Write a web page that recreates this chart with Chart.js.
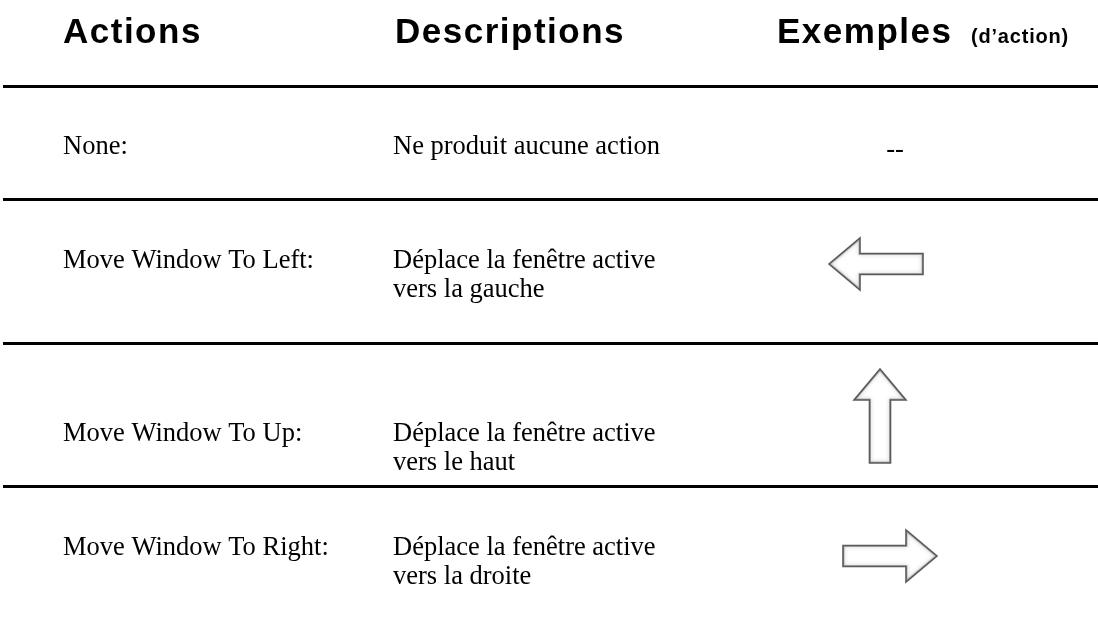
<!DOCTYPE html>
<html>
<head>
<meta charset="utf-8">
<script src="https://cdn.jsdelivr.net/npm/chart.js@4/dist/chart.umd.min.js"></script>
<style>
  html, body { margin: 0; padding: 0; background: #fff; }
  #wrap { width: 1098px; height: 622px; }
</style>
</head>
<body>
<div id="wrap"><canvas id="c" width="1098" height="622"></canvas></div>
<script>
// ---- data ----
const headers = ["Actions", "Descriptions", "Exemples"];
const headerNote = "(d\u2019action)";
const actions = ["None:", "Move Window To Left:", "Move Window To Up:", "Move Window To Right:"];
const descriptions = [
  ["Ne produit aucune action"],
  ["Déplace la fenêtre active", "vers la gauche"],
  ["Déplace la fenêtre active", "vers le haut"],
  ["Déplace la fenêtre active", "vers la droite"]
];
const examples = ["--", "left", "up", "right"];

// ---- layout (positions in canvas units) ----
const W = 1098, H = 622;
const separators = [86, 199, 343, 486];
const headerX = [63, 395, 777];
const headerNoteX = 971;
const headerBaseline = 43;
const colX = [63, 393];
const rowBaseline = [154, 268, 441, 555];
const lineGap = 29;
const exampleX = [895, 876, 880, 890];
const exampleY = [150, 264, 416, 556];

// arrow geometry
const ARROW_LEN = 94, HEAD_LEN = 31, HEAD_HALF = 26, SHAFT_HALF = 10.5;

function makeArrow(dir) {
  const pad = 4;
  const c = document.createElement('canvas');
  const horiz = dir === 'left' || dir === 'right';
  const w = (horiz ? ARROW_LEN : HEAD_HALF * 2) + pad * 2;
  const h = (horiz ? HEAD_HALF * 2 : ARROW_LEN) + pad * 2;
  c.width = w; c.height = h;
  const g = c.getContext('2d');
  g.translate(w / 2, h / 2);
  const rot = { right: 0, left: Math.PI, up: -Math.PI / 2 }[dir];
  g.rotate(rot);
  const L = ARROW_LEN / 2;
  g.beginPath();
  g.moveTo(-L, -SHAFT_HALF);
  g.lineTo(L - HEAD_LEN, -SHAFT_HALF);
  g.lineTo(L - HEAD_LEN, -HEAD_HALF);
  g.lineTo(L, 0);
  g.lineTo(L - HEAD_LEN, HEAD_HALF);
  g.lineTo(L - HEAD_LEN, SHAFT_HALF);
  g.lineTo(-L, SHAFT_HALF);
  g.closePath();
  g.fillStyle = '#ffffff';
  g.fill();
  g.save();
  g.clip();
  g.shadowColor = 'rgba(0,0,0,0.35)';
  g.shadowBlur = 4;
  g.lineWidth = 3;
  g.strokeStyle = 'rgba(120,120,120,0.5)';
  g.stroke();
  g.restore();
  g.lineWidth = 1.6;
  g.strokeStyle = '#5a5a5a';
  g.lineJoin = 'miter';
  g.stroke();
  return c;
}

const arrowImgs = {};
['left', 'up', 'right'].forEach(d => arrowImgs[d] = makeArrow(d));

const arrowRows = examples.map((e, i) => i).filter(i => arrowImgs[examples[i]]);

const tablePlugin = {
  id: 'tableText',
  afterDraw(chart) {
    const ctx = chart.ctx;
    const xs = chart.scales.x, ys = chart.scales.y;
    const px = v => xs.getPixelForValue(v);
    const py = v => ys.getPixelForValue(v);
    ctx.save();
    ctx.fillStyle = '#000';
    ctx.textBaseline = 'alphabetic';
    ctx.textAlign = 'left';
    // headers
    ctx.font = 'bold 35px "Liberation Sans", Arial, sans-serif';
    ctx.letterSpacing = '1.5px';
    headers.forEach((h, i) => ctx.fillText(h, px(headerX[i]), py(headerBaseline)));
    ctx.font = 'bold 20px "Liberation Sans", Arial, sans-serif';
    ctx.letterSpacing = '0.8px';
    ctx.fillText(headerNote, px(headerNoteX), py(headerBaseline));
    ctx.letterSpacing = '0px';
    // body
    ctx.font = '26.5px "Liberation Serif", "Times New Roman", serif';
    actions.forEach((a, i) => {
      ctx.fillText(a, px(colX[0]), py(rowBaseline[i]));
      descriptions[i].forEach((d, k) => ctx.fillText(d, px(colX[1]), py(rowBaseline[i] + k * lineGap)));
      if (!arrowImgs[examples[i]]) {
        ctx.textAlign = 'center';
        ctx.textBaseline = 'middle';
        ctx.fillText(examples[i], px(exampleX[i]), py(exampleY[i]));
        ctx.textAlign = 'left';
        ctx.textBaseline = 'alphabetic';
      }
    });
    ctx.restore();
  }
};

new Chart(document.getElementById('c'), {
  type: 'scatter',
  data: {
    datasets: [{
      data: arrowRows.map(i => ({ x: exampleX[i], y: exampleY[i] })),
      pointStyle: arrowRows.map(i => arrowImgs[examples[i]]),
      pointRadius: 10,
      pointHoverRadius: 10,
      clip: false
    }]
  },
  options: {
    responsive: false,
    devicePixelRatio: 1,
    animation: false,
    events: [],
    layout: { autoPadding: false, padding: { left: 3, right: 0, top: 0, bottom: 0 } },
    plugins: { legend: { display: false }, tooltip: { enabled: false } },
    scales: {
      x: { type: 'linear', min: 3, max: W, display: false },
      y: {
        type: 'linear', min: 0, max: H, reverse: true,
        afterFit(s) { s.width = 0; },
        afterBuildTicks(s) { s.ticks = separators.map(v => ({ value: v })); },
        ticks: { display: false },
        border: { display: false },
        grid: { color: '#000', lineWidth: 3, drawTicks: false }
      }
    }
  },
  plugins: [tablePlugin]
});
</script>
</body>
</html>
